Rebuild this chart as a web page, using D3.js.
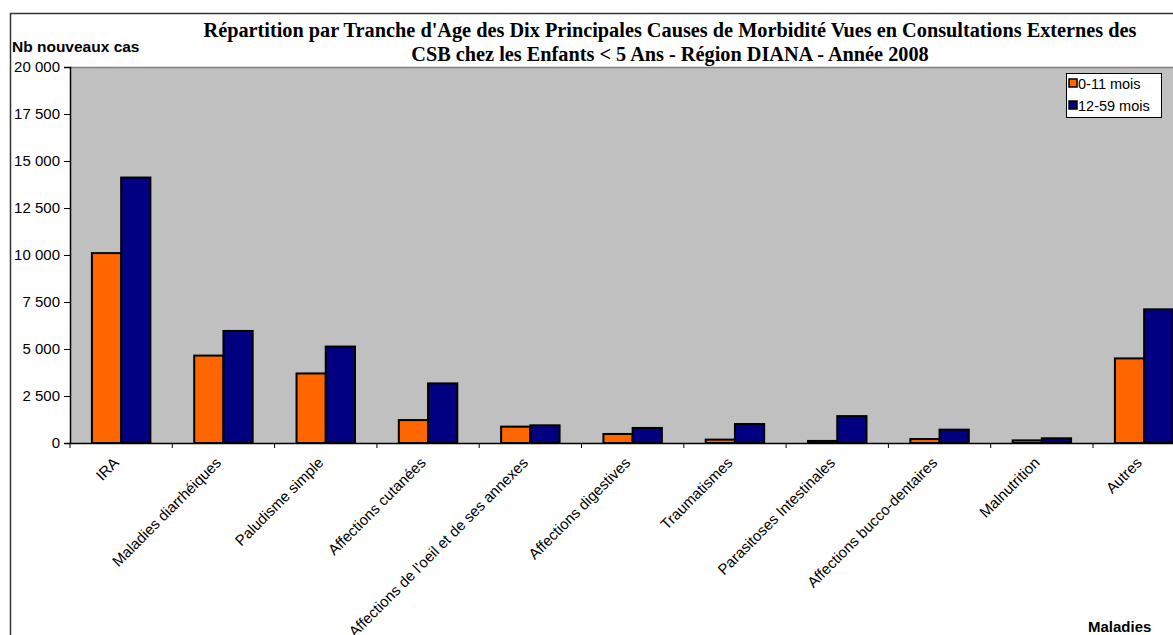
<!DOCTYPE html>
<html><head><meta charset="utf-8">
<script src="https://cdn.jsdelivr.net/npm/d3@7"></script>
<style>body{margin:0;background:#fff;}svg{display:block;}</style>
</head><body>
<svg id="c" width="1173" height="635"></svg>
<script>
const categories = ["IRA","Maladies diarrhéiques","Paludisme simple","Affections cutanées","Affections de l'oeil et de ses annexes","Affections digestives","Traumatismes","Parasitoses Intestinales","Affections bucco-dentaires","Malnutrition","Autres"];
const seriesNames = ["0-11 mois","12-59 mois"];
const values0_11 = [10100,4650,3700,1220,870,480,180,110,210,140,4500];
const values12_59 = [14120,5960,5130,3170,940,800,1010,1430,710,250,7110];
const yTicks = [0,2500,5000,7500,10000,12500,15000,17500,20000];
const colors = ["#FF6600","#000080"];
const titleLines = ["Répartition par Tranche d'Age des Dix Principales Causes de Morbidité Vues en Consultations Externes des","CSB chez les Enfants < 5 Ans - Région DIANA - Année 2008"];

const svg = d3.select("#c");
const L = 70, T = 67, B = 443, step = 102.3;
const R = L + step * categories.length;
const sans = "Arial, 'Liberation Sans', sans-serif";

// outer frame
svg.append("rect").attr("x",10.5).attr("y",13.5).attr("width",1300).attr("height",700)
  .attr("fill","#fff").attr("stroke","#333").attr("stroke-width",1.5);

const x = d3.scaleBand().domain(categories).range([L,R]).padding(0);
const xs = d3.scaleBand().domain(seriesNames).range([0,x.bandwidth()]).paddingInner(0).paddingOuter(0.75);
const y = d3.scaleLinear().domain([0,20000]).range([B,T]);

// plot area
svg.append("rect").attr("x",L).attr("y",T).attr("width",R-L).attr("height",B-T)
  .attr("fill","#C0C0C0");
svg.append("line").attr("x1",L).attr("x2",R).attr("y1",T+0.5).attr("y2",T+0.5)
  .attr("stroke","#808080").attr("stroke-width",1.5);

// bars
const data = categories.map((c,i)=>({c, vals:[values0_11[i],values12_59[i]]}));
const g = svg.append("g");
data.forEach(d=>{
  d.vals.forEach((v,j)=>{
    g.append("rect")
      .attr("x", x(d.c)+xs(seriesNames[j]))
      .attr("y", y(v))
      .attr("width", xs.bandwidth())
      .attr("height", B - y(v))
      .attr("fill", colors[j]).attr("stroke","#000").attr("stroke-width",2);
  });
});

// y axis
const fmt = v => v===0 ? "0" : d3.format(",")(v).replace(/,/g," ");
const ya = svg.append("g").attr("transform",`translate(${L},0)`)
  .call(d3.axisLeft(y).tickValues(yTicks).tickFormat(fmt).tickSize(6).tickPadding(4));
ya.select(".domain").attr("stroke","#000").attr("stroke-width",1.5);
ya.selectAll(".tick line").attr("stroke","#000");
ya.selectAll("text").attr("font-family",sans).attr("font-size",15).attr("fill","#000");

// x axis
const xa = svg.append("g").attr("transform",`translate(0,${B})`)
  .call(d3.axisBottom(x).tickSize(0).tickFormat(""));
xa.select(".domain").attr("stroke","#000").attr("stroke-width",1.5);
const bounds = d3.range(categories.length+1).map(i=>L+i*step);
svg.append("g").selectAll("line").data(bounds).join("line")
  .attr("x1",d=>d).attr("x2",d=>d).attr("y1",B).attr("y2",B+5)
  .attr("stroke","#000").attr("stroke-width",1);
svg.append("g").selectAll("text").data(categories).join("text")
  .attr("transform",d=>`translate(${x(d)+x.bandwidth()/2-5},${B+17}) rotate(-45)`)
  .attr("text-anchor","end").attr("dy","0.35em")
  .attr("font-family",sans).attr("font-size",15)
  .text(d=>d);

// title
svg.append("g").selectAll("text").data(titleLines).join("text")
  .attr("x",670).attr("y",(d,i)=>37+i*24).attr("text-anchor","middle")
  .attr("font-family","'Times New Roman','Liberation Serif',serif").attr("font-weight","bold").attr("font-size",20.3)
  .text(d=>d);

// axis titles
svg.append("text").attr("x",12).attr("y",52).attr("font-family",sans)
  .attr("font-weight","bold").attr("font-size",15.5).text("Nb nouveaux cas");
svg.append("text").attr("x",1088).attr("y",632).attr("font-family",sans)
  .attr("font-weight","bold").attr("font-size",15).text("Maladies");

// legend
const lg = svg.append("g");
lg.append("rect").attr("x",1066.5).attr("y",73.5).attr("width",95).attr("height",44)
  .attr("fill","#fff").attr("stroke","#000").attr("stroke-width",1);
seriesNames.forEach((s,i)=>{
  lg.append("rect").attr("x",1069).attr("y",79+i*22).attr("width",8).attr("height",8)
    .attr("fill",colors[i]).attr("stroke","#000").attr("stroke-width",1.5);
  lg.append("text").attr("x",1078).attr("y",89+i*22)
    .attr("font-family",sans).attr("font-size",14.5).text(s);
});
</script>
</body></html>
